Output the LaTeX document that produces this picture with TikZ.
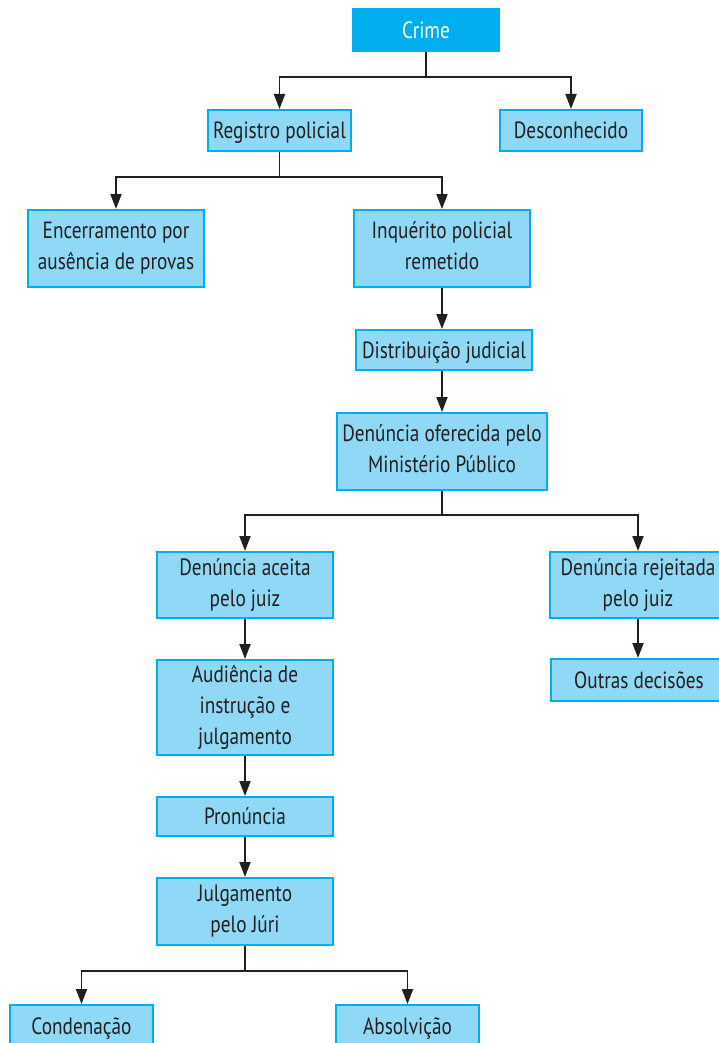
\documentclass[tikz,border=0pt]{standalone}
\usepackage{fontspec}
\setmainfont[FakeStretch=0.82]{PT Sans}
\usetikzlibrary{arrows.meta}
\definecolor{crimeblue}{HTML}{00AEEF}
\definecolor{boxblue}{HTML}{8FD9F7}
\definecolor{inkgray}{HTML}{231F20}

\begin{document}
\begin{tikzpicture}[x=1pt,y=1pt,
    box/.style={draw=crimeblue, fill=boxblue, line width=2pt, align=center,
      inner sep=0pt, text=inkgray, font=\fontsize{23.5}{31}\selectfont,
      execute at begin node={\rule{0pt}{0.95em}},
      execute at end node={\rule[-0.25em]{0pt}{0.25em}}},
    link/.style={draw=inkgray, line width=1.9pt, -{Triangle[length=15pt,width=11pt]}},
    trunk/.style={draw=inkgray, line width=1.9pt}]
    \useasboundingbox (0,0) rectangle (718,-1043);
    \fill[white] (0,0) rectangle (718,-1043);
    % top
    \node[box, fill=crimeblue, text=white, minimum width=146pt, minimum height=42pt] (crime) at (426,-30) {Crime};
    \node[box, minimum width=143pt, minimum height=41pt] (registro) at (279.5,-130.5) {Registro policial};
    \node[box, minimum width=142pt, minimum height=41pt] (desconhecido) at (571,-130.5) {Desconhecido};
    \node[box, minimum width=176pt, minimum height=77pt] (encerramento) at (116,-248.5) {Encerramento por\\ausência de provas};
    \node[box, minimum width=176pt, minimum height=77pt] (inquerito) at (442,-248.5) {Inquérito policial\\remetido};
    \node[box, minimum width=176pt, minimum height=40pt] (distribuicao) at (444,-350) {Distribuição judicial};
    \node[box, minimum width=210pt, minimum height=77pt] (oferecida) at (442,-451.5) {Denúncia oferecida pelo\\Ministério Público};
    % left branch
    \node[box, minimum width=176pt, minimum height=66pt] (aceita) at (245,-585) {Denúncia aceita\\pelo juiz};
    \node[box, minimum width=176pt, minimum height=95pt] (audiencia) at (245,-707.5) {Audiência de\\instrução e\\julgamento};
    \node[box, minimum width=176pt, minimum height=39pt] (pronuncia) at (245,-816.5) {Pronúncia};
    \node[box, minimum width=176pt, minimum height=67pt] (julgamento) at (245,-911.5) {Julgamento\\pelo Júri};
    \node[box, minimum width=143pt, minimum height=42pt] (condenacao) at (81.5,-1026) {Condenação};
    \node[box, minimum width=143pt, minimum height=42pt] (absolvicao) at (407.5,-1026) {Absolvição};
    % right branch
    \node[box, minimum width=176pt, minimum height=66pt] (rejeitada) at (638,-585) {Denúncia rejeitada\\pelo juiz};
    \node[box, minimum width=176pt, minimum height=42pt] (outras) at (639,-680) {Outras decisões};

    % split points
    \coordinate (crimesplit) at (426,-77);
    \coordinate (registrosplit) at (279.5,-177);
    \coordinate (denunciasplit) at (442,-515);
    \coordinate (juri) at (245,-971);
    \draw[trunk] (crime) -- (crimesplit);
    \draw[trunk] (registro) -- (registrosplit);
    \draw[trunk] (oferecida) -- (denunciasplit);
    \draw[trunk] (julgamento) -- (juri);
    \draw[link] (crimesplit) -| (registro.north);
    \draw[link] (crimesplit) -| (desconhecido.north);
    \draw[link] (registrosplit) -| (encerramento.north);
    \draw[link] (registrosplit) -| (inquerito.north);
    \draw[link] (denunciasplit) -| (aceita.north);
    \draw[link] (denunciasplit) -| (rejeitada.north);
    \draw[link] (juri) -| (condenacao.north);
    \draw[link] (juri) -| (absolvicao.north);

    % straight steps
    \foreach \a/\b in {inquerito/distribuicao, aceita/audiencia, audiencia/pronuncia,
                       pronuncia/julgamento, rejeitada/outras}
    \draw[link] (\a.south) -- (\a.south |- \b.north);
    \draw[link] (distribuicao.south -| oferecida) -- (oferecida.north);
\end{tikzpicture}
\end{document}
